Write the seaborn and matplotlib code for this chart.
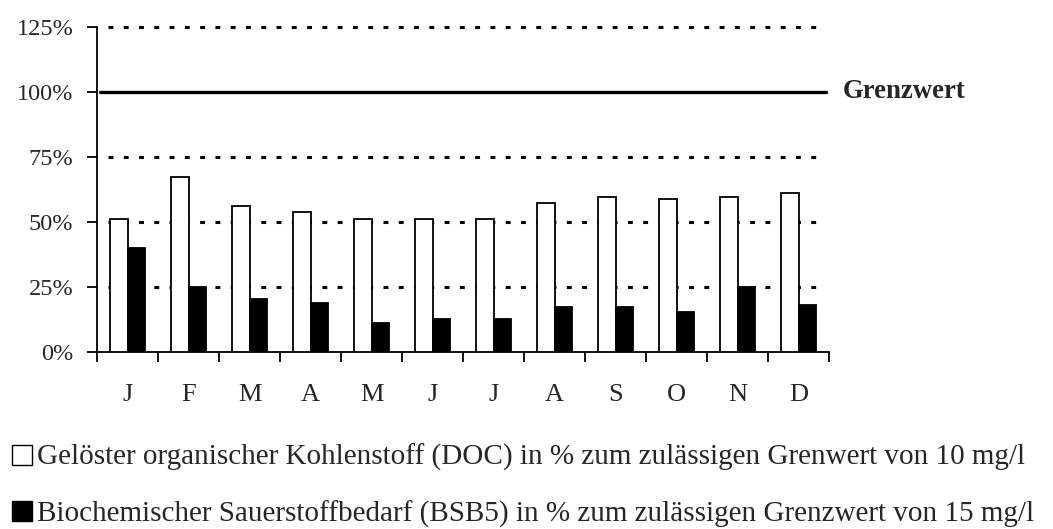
import numpy as np
import pandas as pd
import matplotlib
matplotlib.use("Agg")
import matplotlib.pyplot as plt
from matplotlib.patches import Patch
import seaborn as sns

months = ["J", "F", "M", "A", "M", "J", "J", "A", "S", "O", "N", "D"]
doc_values = [51.2, 67.4, 56.3, 53.7, 51.2, 51.2, 51.2, 57.2, 59.6, 58.7, 59.6, 61.3]
bsb_values = [40.1, 25.1, 20.5, 19.0, 11.2, 12.8, 12.8, 17.3, 17.3, 15.4, 25.0, 18.1]
series_labels = [
    "Gelöster organischer Kohlenstoff (DOC) in % zum zulässigen Grenwert von 10 mg/l",
    "Biochemischer Sauerstoffbedarf (BSB5) in % zum zulässigen Grenzwert von 15 mg/l",
]
y_ticks = [0, 25, 50, 75, 100, 125]
limit_value = 100
limit_label = "Grenzwert"

sns.set_theme(style="white")
plt.rcParams["font.family"] = ["Liberation Serif", "DejaVu Serif"]

keys = [f"{i:02d}" for i in range(len(months))]
df = pd.DataFrame({
    "key": keys * 2,
    "value": doc_values + bsb_values,
    "series": [series_labels[0]] * 12 + [series_labels[1]] * 12,
})

fig = plt.figure(figsize=(10.53, 5.29), dpi=100)
ax = fig.add_axes([97 / 1053, 1 - 352 / 529, (829 - 97) / 1053, (352 - 27) / 529])

sns.barplot(data=df, x="key", y="value", hue="series", order=keys,
            hue_order=series_labels, palette=["white", "black"],
            width=0.57, edgecolor="black", linewidth=1.3, ax=ax, legend=False,
            zorder=3)

ax.set_xlim(-0.5, 11.5)
ax.set_ylim(0, 125)

for y in [25, 50, 75, 125]:
    ax.plot([-0.32, 11.45], [y, y], color="black", lw=2.2,
            linestyle=(0, (1.6, 3.4)), zorder=2, clip_on=False)
ax.plot([-0.45, 11.45], [limit_value, limit_value], color="black", lw=2.4,
        zorder=4, clip_on=False)
ax.text(11.73, limit_value, limit_label, fontsize=19.3, fontweight="bold",
        va="center", ha="left", clip_on=False)

for s in ["top", "right"]:
    ax.spines[s].set_visible(False)
for s in ["left", "bottom"]:
    ax.spines[s].set_color("black")
    ax.spines[s].set_linewidth(1.3)

ax.set_yticks(y_ticks)
ax.set_yticklabels([f"{v}%" for v in y_ticks], fontsize=17.5)
ax.tick_params(axis="y", direction="out", length=7, width=1.3, color="black", left=True, pad=10)

ax.set_xticks(np.arange(-0.5, 12, 1.0))
ax.set_xticklabels([])
ax.tick_params(axis="x", which="major", direction="out", length=7, width=1.3,
               color="black", bottom=True)
ax.set_xticks(np.arange(12), minor=True)
ax.set_xticklabels(months, minor=True, fontsize=19)
ax.tick_params(axis="x", which="minor", length=0, pad=23)
ax.set_xlabel("")
ax.set_ylabel("")
ax.grid(False)

handles = [Patch(facecolor="white", edgecolor="black", linewidth=1.0),
           Patch(facecolor="black", edgecolor="black", linewidth=1.0)]
fig.legend(handles, series_labels, loc="upper left",
           bbox_to_anchor=(12 / 1053, 1 - 444 / 529), frameon=False,
           fontsize=21, handlelength=0.68, handleheight=0.68,
           handletextpad=0.17, labelspacing=1.0, borderpad=0, borderaxespad=0)

fig.savefig("out.png", dpi=100)
